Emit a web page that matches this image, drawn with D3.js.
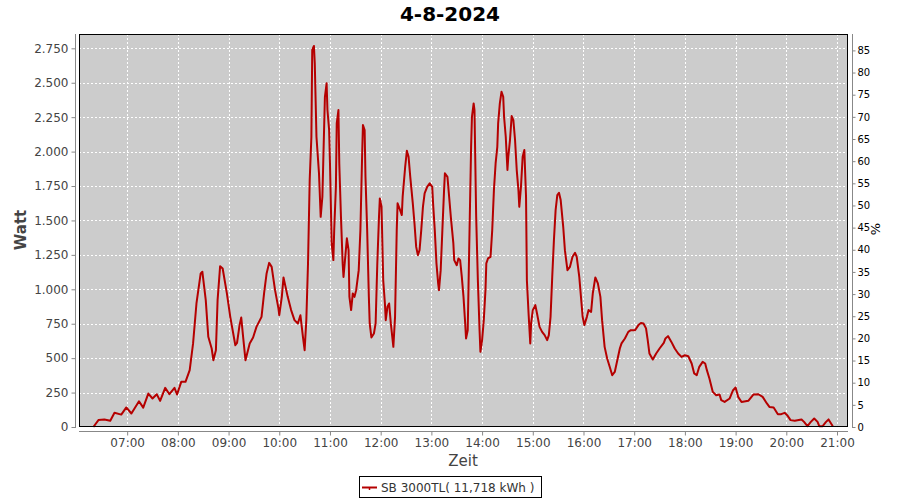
<!DOCTYPE html>
<html><head><meta charset="utf-8">
<script src="https://cdn.jsdelivr.net/npm/d3@7"></script>
<style>body{margin:0;background:#fff}svg{display:block}text{font-family:"DejaVu Sans",sans-serif}</style>
</head><body><svg id="c" width="900" height="500"></svg>
<script>
const title = "4-8-2024";
const seriesName = "SB 3000TL( 11,718 kWh )";
const times = ["06:20","06:26","06:33","06:40","06:45","06:53","06:59","07:05","07:14","07:19","07:25","07:30","07:35","07:39","07:45","07:50","07:56","07:59","08:04","08:09","08:14","08:18","08:22","08:27","08:29","08:33","08:36","08:40","08:42","08:45","08:47","08:50","08:53","08:58","09:02","09:08","09:10","09:13","09:15","09:17","09:20","09:25","09:29","09:33","09:39","09:42","09:45","09:48","09:51","09:55","09:59","10:00","10:03","10:05","10:10","10:14","10:18","10:22","10:25","10:28","10:30","10:32","10:34","10:36","10:38","10:39","10:41","10:42","10:44","10:47","10:49","10:51","10:52","10:54","10:56","10:57","10:59","11:00","11:01","11:02","11:04","11:05","11:07","11:08","11:10","11:11","11:13","11:15","11:16","11:20","11:22","11:23","11:25","11:27","11:29","11:31","11:34","11:36","11:38","11:39","11:41","11:42","11:44","11:46","11:47","11:49","11:52","11:54","11:56","11:58","11:59","12:01","12:02","12:03","12:05","12:06","12:08","12:10","12:12","12:15","12:17","12:19","12:20","12:23","12:25","12:26","12:29","12:31","12:33","12:35","12:38","12:40","12:42","12:44","12:46","12:48","12:50","12:52","12:55","12:58","13:01","13:02","13:04","13:06","13:08","13:09","13:11","13:13","13:15","13:16","13:19","13:21","13:23","13:26","13:27","13:30","13:32","13:34","13:36","13:38","13:40","13:41","13:43","13:45","13:47","13:48","13:50","13:51","13:53","13:55","13:57","13:58","14:00","14:02","14:04","14:05","14:07","14:10","14:12","14:14","14:16","14:18","14:19","14:21","14:23","14:25","14:26","14:28","14:30","14:31","14:33","14:35","14:37","14:39","14:41","14:43","14:44","14:46","14:48","14:50","14:52","14:53","14:55","14:57","14:58","15:00","15:03","15:05","15:08","15:11","15:14","15:17","15:19","15:21","15:23","15:25","15:27","15:29","15:31","15:33","15:36","15:38","15:41","15:44","15:47","15:50","15:52","15:55","15:57","15:59","16:01","16:04","16:06","16:09","16:11","16:14","16:17","16:20","16:22","16:25","16:28","16:31","16:34","16:37","16:40","16:43","16:45","16:49","16:53","16:56","17:01","17:05","17:08","17:11","17:14","17:16","17:18","17:22","17:26","17:30","17:35","17:37","17:40","17:44","17:48","17:52","17:56","18:00","18:04","18:08","18:11","18:14","18:17","18:21","18:24","18:26","18:29","18:33","18:37","18:41","18:43","18:47","18:53","18:57","19:00","19:03","19:07","19:15","19:21","19:27","19:32","19:37","19:40","19:45","19:50","19:54","19:58","20:01","20:05","20:10","20:18","20:21","20:25","20:29","20:33","20:37","20:39","20:43","20:47","20:50","20:55"];
const watts = [0,50,55,45,103,90,142,98,187,141,243,207,238,190,284,238,284,236,328,328,413,607,897,1115,1127,921,655,570,485,558,921,1168,1151,970,800,594,610,740,795,667,485,607,650,727,800,970,1115,1192,1163,994,861,812,945,1086,945,849,776,752,812,655,558,776,1188,1793,2108,2738,2767,2641,2108,1842,1526,1672,1914,2398,2496,2302,2156,1914,1624,1333,1212,1430,1744,2205,2302,1914,1526,1188,1090,1370,1284,945,849,970,945,994,1139,1430,1962,2193,2156,1817,1430,945,752,650,679,752,1188,1526,1660,1599,1333,1066,897,776,873,897,752,582,800,1430,1624,1575,1539,1672,1890,2006,1962,1817,1624,1478,1308,1248,1284,1430,1599,1696,1744,1769,1744,1624,1430,1188,1043,994,1139,1430,1720,1842,1817,1672,1526,1333,1212,1175,1224,1212,1090,945,752,643,703,1381,2035,2253,2350,2302,1526,1066,703,546,631,776,994,1188,1224,1236,1430,1720,1914,2035,2205,2350,2435,2398,2253,2108,1866,1962,2084,2258,2229,2084,1866,1720,1599,1744,1962,2011,1672,1066,824,607,752,849,885,824,727,691,667,631,667,800,1090,1357,1575,1684,1701,1648,1454,1284,1139,1163,1236,1265,1236,1090,945,800,740,800,849,836,970,1086,1043,945,776,582,498,437,376,400,485,570,607,643,691,703,703,740,756,752,716,631,534,490,534,570,611,643,660,618,570,534,509,521,514,461,389,376,437,473,461,413,352,255,231,236,195,182,207,267,287,219,182,190,236,238,219,171,146,141,93,93,103,86,50,45,55,37,6,37,62,37,6,6,37,55,6];
const wattTicks = [0,250,500,750,1000,1250,1500,1750,2000,2250,2500,2750];
const pctTicks = [0,5,10,15,20,25,30,35,40,45,50,55,60,65,70,75,80,85];
const hourTicks = ["07:00","08:00","09:00","10:00","11:00","12:00","13:00","14:00","15:00","16:00","17:00","18:00","19:00","20:00","21:00"];

const parse = s => { const [h,m] = s.split(":").map(Number); return new Date(2024,7,4,h,m); };
const data = times.map((t,i)=>({t:parse(t), v:watts[i]}));

const svg = d3.select("#c");
const L=79, R=848, T=34, B=427;
const x = d3.scaleTime().domain([new Date(2024,7,4,6,3), new Date(2024,7,4,21,13)]).range([L,R]);
const y = d3.scaleLinear().domain([0,2854]).range([B,T]);
const yp = d3.scaleLinear().domain([0,88.7]).range([B,T]);

// title
svg.append("text").attr("x",450).attr("y",21).attr("text-anchor","middle")
  .style("font-size","20px").style("font-weight","bold").attr("fill","#000").text(title);

// plot background
svg.append("rect").attr("x",L).attr("y",T).attr("width",R-L).attr("height",B-T).attr("fill","#cccccc");

// grid
const g = svg.append("g");
g.selectAll(".gx").data(hourTicks.map(parse)).enter().append("line")
  .attr("x1",d=>Math.round(x(d))+0.5).attr("x2",d=>Math.round(x(d))+0.5).attr("y1",T).attr("y2",B)
  .attr("stroke","#fff").attr("stroke-dasharray","2,2");
g.selectAll(".gy").data(wattTicks).enter().append("line")
  .attr("y1",d=>Math.round(y(d))+0.5).attr("y2",d=>Math.round(y(d))+0.5).attr("x1",L).attr("x2",R)
  .attr("stroke","#fff").attr("stroke-dasharray","2,2");

// line
svg.append("path").datum(data).attr("fill","none").attr("stroke","#b50000").attr("stroke-width",2)
  .attr("stroke-linejoin","round")
  .attr("d", d3.line().x(d=>x(d.t)).y(d=>y(d.v)));

// border
svg.append("rect").attr("x",L+0.5).attr("y",T+0.5).attr("width",R-L-1).attr("height",B-T-1)
  .attr("fill","none").attr("stroke","#000").attr("stroke-width",1);

// left axis
const fmtW = d => d3.format(",")(d).replace(/,/g,".");
const ay = svg.append("g").attr("transform","translate(75.5,0)")
  .call(d3.axisLeft(y).tickValues(wattTicks).tickFormat(fmtW).tickSize(4).tickPadding(3));
ay.select(".domain").attr("stroke","#888").attr("d",`M0,${T}V${B+1}`);
ay.selectAll(".tick line").attr("stroke","#888");
ay.selectAll("text").attr("fill","#444").style("font-size","12px");

// right axis
const ar = svg.append("g").attr("transform","translate(852.5,0)")
  .call(d3.axisRight(yp).tickValues(pctTicks).tickSize(3).tickPadding(2));
ar.select(".domain").attr("stroke","#888").attr("d",`M0,${T}V${B+1}`);
ar.selectAll(".tick line").attr("stroke","#888");
ar.selectAll("text").attr("fill","#000").style("font-size","10px");

// bottom axis
const ax = svg.append("g").attr("transform","translate(0,431.5)")
  .call(d3.axisBottom(x).tickValues(hourTicks.map(parse)).tickFormat(d3.timeFormat("%H:%M")).tickSize(4).tickPadding(3));
ax.select(".domain").attr("stroke","#888").attr("d",`M${L},0H${R}`);
ax.selectAll(".tick line").attr("stroke","#888");
ax.selectAll("text").attr("fill","#444").style("font-size","12px");

// axis labels
svg.append("text").attr("transform","translate(26,230) rotate(-90)").attr("text-anchor","middle")
  .style("font-size","15px").style("font-weight","bold").attr("fill","#444").text("Watt");
svg.append("text").attr("x",463).attr("y",466).attr("text-anchor","middle")
  .style("font-size","15px").attr("fill","#444").text("Zeit");
svg.append("text").attr("transform","translate(880,229) rotate(-90)").attr("text-anchor","middle")
  .style("font-size","13px").attr("fill","#000").text("%");

// legend
const lg = svg.append("g");
lg.append("rect").attr("x",359.5).attr("y",476.5).attr("width",182).attr("height",21).attr("fill","#fff").attr("stroke","#000");
lg.append("line").attr("x1",362).attr("x2",377).attr("y1",487.5).attr("y2",487.5).attr("stroke","#b50000").attr("stroke-width",2);
lg.append("line").attr("x1",369.5).attr("x2",369.5).attr("y1",487).attr("y2",490).attr("stroke","#b50000").attr("stroke-width",1.5);
lg.append("text").attr("x",381).attr("y",492).style("font-size","12px").attr("fill","#333").text(seriesName);
</script></body></html>
